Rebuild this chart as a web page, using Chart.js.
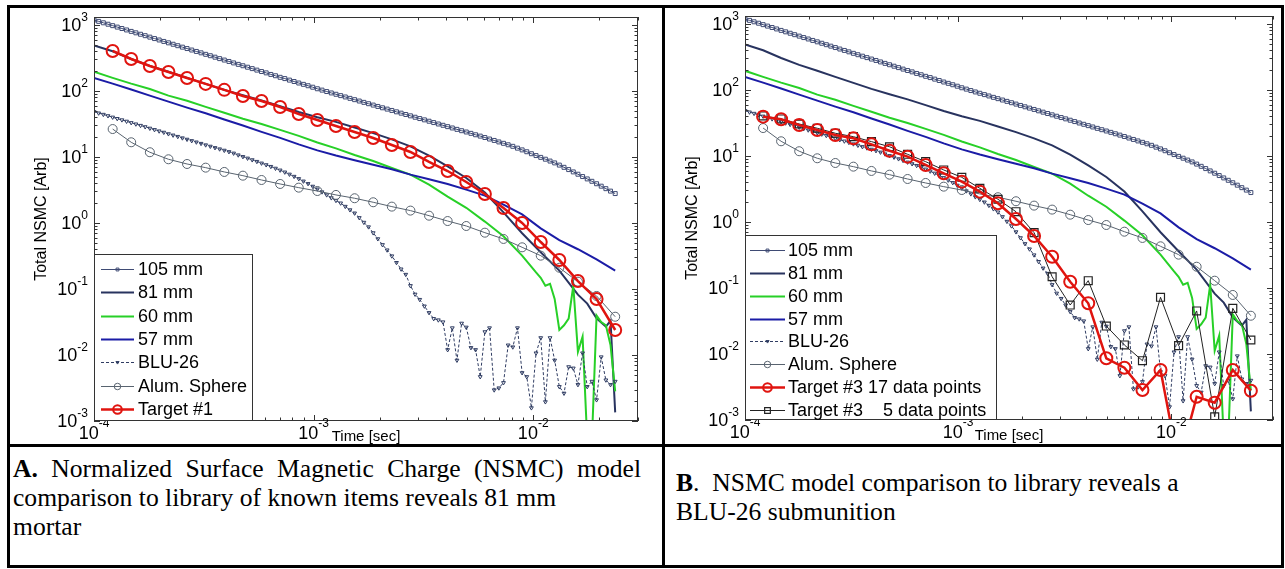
<!DOCTYPE html>
<html>
<head>
<meta charset="utf-8">
<script src="https://cdn.jsdelivr.net/npm/chart.js@4.4.1/dist/chart.umd.min.js"></script>
<style>
  html, body { margin: 0; padding: 0; background: #fff; }
  body { width: 1285px; height: 569px; position: relative; overflow: hidden; }
  canvas { position: absolute; }
  .rule { position: absolute; background: #000; }
  .cap { position: absolute; font-family: "Liberation Serif", "Times New Roman", serif; font-size: 25.6px; line-height: 29px; color: #000; white-space: nowrap; }
  .just { text-align: justify; text-align-last: justify; white-space: normal; }
</style>
</head>
<body>
<canvas id="chartA" width="651" height="436" style="left:10px;top:8px"></canvas>
<canvas id="chartB" width="616" height="436" style="left:665px;top:8px"></canvas>

<div class="rule" style="left:7px;top:5px;width:1277px;height:3px"></div>
<div class="rule" style="left:7px;top:444px;width:1277px;height:3px"></div>
<div class="rule" style="left:7px;top:565px;width:1277px;height:3px"></div>
<div class="rule" style="left:7px;top:5px;width:3px;height:563px"></div>
<div class="rule" style="left:662px;top:5px;width:3px;height:563px"></div>
<div class="rule" style="left:1281px;top:5px;width:3px;height:563px"></div>

<div class="cap just" style="left:13px;top:454px;width:628px"><b>A.</b> Normalized Surface Magnetic Charge (NSMC) model</div>
<div class="cap" style="left:13px;top:483px">comparison to library of known items reveals 81 mm</div>
<div class="cap" style="left:13px;top:512px">mortar</div>
<div class="cap" style="left:676px;top:468px"><b>B</b>.&nbsp; NSMC model comparison to library reveals a<br>BLU-26 submunition</div>

<script>
// time gates [sec], shared by every curve
const tLib = [
  1.000e-4, 1.050e-4, 1.103e-4, 1.158e-4, 1.216e-4, 1.276e-4, 1.340e-4, 1.407e-4, 1.477e-4, 1.551e-4,
  1.629e-4, 1.710e-4, 1.796e-4, 1.886e-4, 1.980e-4, 2.079e-4, 2.183e-4, 2.292e-4, 2.407e-4, 2.527e-4,
  2.653e-4, 2.786e-4, 2.925e-4, 3.072e-4, 3.225e-4, 3.386e-4, 3.556e-4, 3.733e-4, 3.920e-4, 4.116e-4,
  4.322e-4, 4.538e-4, 4.765e-4, 5.003e-4, 5.253e-4, 5.516e-4, 5.792e-4, 6.081e-4, 6.386e-4, 6.705e-4,
  7.040e-4, 7.392e-4, 7.762e-4, 8.150e-4, 8.557e-4, 8.985e-4, 9.434e-4, 9.906e-4, 1.040e-3, 1.092e-3,
  1.147e-3, 1.204e-3, 1.264e-3, 1.328e-3, 1.394e-3, 1.464e-3, 1.537e-3, 1.614e-3, 1.694e-3, 1.779e-3,
  1.868e-3, 1.961e-3, 2.059e-3, 2.162e-3, 2.271e-3, 2.384e-3, 2.503e-3, 2.628e-3, 2.760e-3, 2.898e-3,
  3.043e-3, 3.195e-3, 3.355e-3, 3.522e-3, 3.698e-3, 3.883e-3, 4.077e-3, 4.281e-3, 4.495e-3, 4.720e-3,
  4.956e-3, 5.204e-3, 5.464e-3, 5.737e-3, 6.024e-3, 6.325e-3, 6.642e-3, 6.974e-3, 7.323e-3, 7.689e-3,
  8.073e-3, 8.477e-3, 8.901e-3, 9.346e-3, 9.813e-3, 1.030e-2, 1.082e-2, 1.136e-2, 1.193e-2, 1.252e-2,
  1.315e-2, 1.381e-2, 1.450e-2, 1.522e-2, 1.598e-2, 1.678e-2, 1.762e-2, 1.850e-2, 1.943e-2, 2.040e-2,
  2.142e-2, 2.249e-2, 2.362e-2
];

// 105 mm, one value per gate
const mm105 = [
  1190, 1133, 1078, 1026, 976, 928, 883, 840, 799, 760,
  723, 688, 654, 622, 592, 563, 536, 510, 485, 461,
  439, 417, 397, 378, 359, 342, 325, 309, 294, 280,
  266, 253, 241, 229, 218, 207, 197, 188, 178, 170,
  161, 154, 146, 139, 132, 126, 120, 114, 108, 103,
  98, 93.3, 89.1, 85.0, 81.1, 77.3, 73.8, 70.4, 67.2, 64.1,
  61.1, 58.3, 55.6, 53.1, 50.7, 48.3, 46.1, 44.0, 42.0, 40.0,
  38.2, 36.5, 34.8, 33.2, 31.6, 30.2, 28.8, 27.5, 26.2, 25.0,
  23.9, 22.8, 21.7, 20.7, 19.7, 18.7, 17.8, 16.9, 16.1, 15.3,
  14.5, 13.6, 12.8, 12.0, 11.2, 10.5, 9.86, 9.25, 8.67, 8.13,
  7.53, 6.97, 6.44, 5.94, 5.48, 5.05, 4.65, 4.28, 3.93, 3.61,
  3.31, 3.04, 2.79
];

// BLU-26, one value per gate
const blu26 = [
  48.5, 46.2, 44.1, 42.0, 40.0, 38.1, 36.4, 34.7, 33.0, 31.5,
  30.0, 28.6, 27.2, 25.9, 24.7, 23.6, 22.4, 21.4, 20.4, 19.4,
  18.5, 17.6, 16.8, 16.0, 15.2, 14.5, 13.8, 13.2, 12.6, 12.0,
  11.4, 10.7, 10.1, 9.57, 9.04, 8.53, 8.05, 7.60, 7.16, 6.73,
  6.31, 5.89, 5.47, 5.07, 4.68, 4.30, 3.94, 3.59, 3.26, 2.95,
  2.66, 2.40, 2.19, 2.00, 1.78, 1.58, 1.41, 1.20, 1.02, 0.871,
  0.708, 0.575, 0.468, 0.389, 0.316, 0.251, 0.200, 0.166, 0.112, 0.0832,
  0.0692, 0.0550, 0.0437, 0.0355, 0.0339, 0.0316, 0.0120, 0.0257, 0.00832, 0.0302,
  0.0263, 0.0129, 0.0120, 0.00468, 0.0224, 0.0257, 0.00295, 0.00316, 0.00380, 0.0141,
  0.0132, 0.0257, 0.00537, 0.00468, 0.00158, 0.0107, 0.0182, 0.00195, 0.0182, 0.00832,
  0.00331, 0.00263, 0.00661, 0.00631, 0.00355, 0.0107, 0.00331, 0.00398, 0.00209, 0.00933,
  0.00417, 0.00355, 0.00398
];

// gate indices used by the sparser curves
const kEvery4 = [0, 4, 8, 12, 16, 20, 24, 28, 32, 36, 40, 44, 48, 52, 56, 60, 64, 68, 72, 76, 80, 84, 88, 92, 96, 100, 104, 108, 112];
const kMarks = [4, 8, 12, 16, 20, 24, 28, 32, 36, 40, 44, 48, 52, 56, 60, 64, 68, 72, 76, 80, 84, 88, 92, 96, 100, 104, 108, 112];
const k81 = [0, 4, 8, 12, 16, 20, 24, 28, 32, 36, 40, 44, 48, 52, 56, 60, 64, 68, 72, 76, 80, 84, 88, 92, 96, 100, 104, 106, 108, 109, 110, 111, 112];
const k60 = [0, 4, 8, 12, 16, 20, 24, 28, 32, 36, 40, 44, 48, 52, 56, 60, 64, 68, 72, 76, 80, 84, 88, 92,
  95, 96, 97, 98, 99, 100, 101, 102, 103, 104, 105, 106, 107, 108, 109, 110, 111, 112];

const mm81 = [490, 400, 305, 240, 195, 158, 128, 104, 86, 72, 59, 48, 40, 34, 28, 23, 18.5, 14.5, 10.5, 7.2,
  4.8, 2.9, 1.45, 0.70, 0.36, 0.19, 0.082, 0.06, 0.036, 0.031, 0.027, 0.033, 0.00135];
const mm60 = [195, 158, 129, 107, 85, 71, 57.5, 46.8, 38, 31.6, 25.7, 20.9, 16.6, 13.5, 10.7, 8.7, 6.8, 5.4, 3.8, 2.5,
  1.7, 1.05, 0.63, 0.32, 0.178, 0.148, 0.112, 0.120, 0.0708, 0.024, 0.0282, 0.0355, 0.112, 0.0112,
  0.019, 0.0005, 0.0005, 0.0398, 0.0316, 0.0282, 0.0141, 0.00282];
const mm57 = [158, 129, 105, 85, 69, 56, 46, 37, 30, 24, 19.5, 15.5, 12.6, 10.5, 8.9, 7.6, 6.5, 5.4, 4.6, 3.9,
  3.2, 2.6, 1.9, 1.35, 0.83, 0.55, 0.40, 0.28, 0.19];
const alum = [26.5, 16.7, 11.8, 9.23, 7.83, 6.89, 5.93, 5.21, 4.48, 3.90, 3.43, 3.05, 2.66, 2.37, 2.06, 1.77, 1.54, 1.29,
  1.07, 0.90, 0.713, 0.573, 0.428, 0.320, 0.210, 0.129, 0.0784, 0.0380];
const target1 = [404, 305, 239, 194, 157, 128, 104, 84, 70.5, 57.2, 44.8, 36.4, 29.5, 23.9, 19.4, 15.2, 11.9, 8.40,
  6.13, 4.18, 2.75, 1.69, 1.00, 0.515, 0.275, 0.132, 0.0705, 0.0239];
const target3a = [39.4, 36.0, 29.5, 24.8, 20.8, 18.5, 15.0, 12.0, 9.76, 7.31, 5.47, 4.08, 2.88, 1.92, 1.11, 0.614, 0.298,
  0.124, 0.0586, 0.00861, 0.00619, 0.00285, 0.00573, 0.00021, 0.00225, 0.00183, 0.00573, 0.00278];
const target3b = [40.4, 36.4, 30.5, 26.3, 22.1, 19.6, 16.5, 13.8, 10.6, 8.20, 6.14, 4.75, 3.24, 2.21, 1.43, 0.689, 0.148,
  0.0552, 0.129, 0.0265, 0.0137, 0.00791, 0.0723, 0.0134, 0.0449, 0.00112, 0.0492, 0.0163];

// axis decades (tick labels are 10^n)
const xExp = [-4, -3, -2];
const yExp = [-3, -2, -1, 0, 1, 2, 3];

const SANS = '"Liberation Sans", Arial, sans-serif';

function pts(ks, vals) {
  return ks.map((k, i) => ({ x: tLib[k], y: vals[i] }));
}
function allPts(vals) {
  return tLib.map((t, i) => ({ x: t, y: vals[i] }));
}

function librarySets() {
  return [
    { label: '105 mm', data: allPts(mm105), borderColor: '#3f4b74', borderWidth: 1,
      pointStyle: 'rect', pointRadius: 2.8, pointBorderWidth: 1, pointBorderColor: '#3f4b74',
      pointBackgroundColor: 'rgba(0,0,0,0)', order: 9 },
    { label: '81 mm', data: pts(k81, mm81), borderColor: '#28335f', borderWidth: 2, pointRadius: 0, order: 8 },
    { label: '60 mm', data: pts(k60, mm60), borderColor: '#27d027', borderWidth: 2, pointRadius: 0, order: 7 },
    { label: '57 mm', data: pts(kEvery4, mm57), borderColor: '#1b1ca6', borderWidth: 2, pointRadius: 0, order: 6 },
    { label: 'BLU-26', data: allPts(blu26), borderColor: '#2f3c62', borderWidth: 1, borderDash: [3, 2],
      pointStyle: 'triangle', pointRotation: 180, pointRadius: 2.2, pointBorderWidth: 1,
      pointBorderColor: '#2f3c62', pointBackgroundColor: 'rgba(0,0,0,0)', order: 5 },
    { label: 'Alum. Sphere', data: pts(kMarks, alum), borderColor: '#58636f', borderWidth: 1,
      pointStyle: 'circle', pointRadius: 4.5, pointBorderWidth: 1, pointBorderColor: '#58636f',
      pointBackgroundColor: 'rgba(0,0,0,0)', order: 4 }
  ];
}

function drawMark(ctx, d, x, y, r) {
  ctx.strokeStyle = d.pointBorderColor || d.borderColor;
  ctx.lineWidth = d.pointBorderWidth || 1;
  ctx.beginPath();
  if (d.pointStyle === 'circle') {
    ctx.arc(x, y, r, 0, Math.PI * 2);
  } else if (d.pointStyle === 'rect') {
    const s = r * Math.SQRT1_2;
    ctx.rect(x - s, y - s, 2 * s, 2 * s);
  } else if (d.pointStyle === 'triangle') {
    ctx.moveTo(x - r, y - r * 0.6);
    ctx.lineTo(x + r, y - r * 0.6);
    ctx.lineTo(x, y + r);
    ctx.closePath();
  }
  ctx.stroke();
}

function powLabel(ctx, e, x, y, where) {
  const base = '10', ex = String(e);
  ctx.font = '18px ' + SANS;
  const wb = ctx.measureText(base).width;
  ctx.font = '12px ' + SANS;
  const we = ctx.measureText(ex).width;
  let left, midY, expY;
  if (where === 'y') {
    left = x - we - wb;
    midY = y + 1;
    expY = y - 4;
  } else {
    left = x - (wb + we) / 2;
    midY = y + 13;
    expY = y + 6;
  }
  ctx.fillStyle = '#000';
  ctx.textAlign = 'left';
  ctx.font = '18px ' + SANS;
  ctx.textBaseline = 'middle';
  ctx.fillText(base, left, midY);
  ctx.font = '12px ' + SANS;
  ctx.textBaseline = 'alphabetic';
  ctx.fillText(ex, left + wb, expY);
}

// frame, inward ticks, tick labels and axis titles (matlab look)
const matlabAxes = {
  id: 'matlabAxes',
  afterDatasetsDraw(chart) {
    const { ctx, chartArea: a } = chart;
    const xs = chart.scales.x, ys = chart.scales.y;
    ctx.save();
    ctx.strokeStyle = '#333';
    ctx.lineWidth = 1;
    ctx.beginPath();
    for (let e = -4; e <= -1; e++) {
      for (let m = 1; m <= 9; m++) {
        const v = m * Math.pow(10, e);
        if (v < xs.min || v > xs.max) continue;
        const px = Math.round(xs.getPixelForValue(v)) + 0.5;
        const len = m === 1 ? 6 : 3.5;
        ctx.moveTo(px, a.bottom); ctx.lineTo(px, a.bottom - len);
        ctx.moveTo(px, a.top); ctx.lineTo(px, a.top + len);
      }
    }
    for (let e = -3; e <= 3; e++) {
      for (let m = 1; m <= 9; m++) {
        const v = m * Math.pow(10, e);
        if (v < ys.min || v > ys.max) continue;
        const py = Math.round(ys.getPixelForValue(v)) + 0.5;
        const len = m === 1 ? 6 : 3.5;
        ctx.moveTo(a.left, py); ctx.lineTo(a.left + len, py);
        ctx.moveTo(a.right, py); ctx.lineTo(a.right - len, py);
      }
    }
    ctx.stroke();
    ctx.strokeRect(a.left + 0.5, a.top + 0.5, a.right - a.left - 1, a.bottom - a.top - 1);

    yExp.forEach(e => powLabel(ctx, e, a.left - 6, ys.getPixelForValue(Math.pow(10, e)), 'y'));
    xExp.forEach(e => powLabel(ctx, e, xs.getPixelForValue(Math.pow(10, e)), a.bottom, 'x'));

    ctx.fillStyle = '#000';
    ctx.textAlign = 'center';
    ctx.textBaseline = 'middle';
    ctx.font = '15px ' + SANS;
    ctx.fillText('Time [sec]', (a.left + a.right) / 2, a.bottom + 16);
    ctx.translate(a.left - 52, (a.top + a.bottom) / 2);
    ctx.rotate(-Math.PI / 2);
    ctx.font = '16px ' + SANS;
    ctx.fillText('Total NSMC [Arb]', 0, 0);
    ctx.restore();
  }
};

// boxed legend in the lower left corner of the axes
const boxLegend = {
  id: 'boxLegend',
  afterDraw(chart, args, opts) {
    const { ctx, chartArea: a } = chart;
    const x0 = a.left, y0 = a.bottom - opts.h;
    ctx.save();
    ctx.fillStyle = '#fff';
    ctx.fillRect(x0, y0, opts.w, opts.h);
    ctx.strokeStyle = '#333';
    ctx.lineWidth = 1;
    ctx.strokeRect(x0 + 0.5, y0 + 0.5, opts.w - 1, opts.h - 1);
    chart.data.datasets.forEach((d, i) => {
      const ry = Math.round(y0 + opts.first + i * opts.step) + 0.5;
      const s0 = x0 + opts.s0, s1 = x0 + opts.s1;
      ctx.strokeStyle = d.borderColor;
      ctx.lineWidth = d.borderWidth;
      ctx.setLineDash(d.borderDash || []);
      ctx.beginPath(); ctx.moveTo(s0, ry); ctx.lineTo(s1, ry); ctx.stroke();
      ctx.setLineDash([]);
      if (d.pointRadius) drawMark(ctx, d, (s0 + s1) / 2, ry, d.pointRadius * 0.72);
      ctx.fillStyle = '#000';
      ctx.font = '18px ' + SANS;
      ctx.textAlign = 'left';
      ctx.textBaseline = 'middle';
      ctx.fillText(d.label, x0 + opts.tx, ry + 1);
    });
    ctx.restore();
  }
};

function makeChart(id, sets, pad, legend) {
  return new Chart(document.getElementById(id), {
    type: 'scatter',
    data: { datasets: sets.map(s => Object.assign({ showLine: true, tension: 0 }, s)) },
    options: {
      responsive: false,
      animation: false,
      events: [],
      layout: { padding: pad },
      scales: {
        x: { type: 'logarithmic', min: 1e-4, max: 0.03, display: false },
        y: { type: 'logarithmic', min: 1e-3, max: 1320, display: false }
      },
      plugins: { legend: { display: false }, tooltip: { enabled: false }, boxLegend: legend }
    },
    plugins: [matlabAxes, boxLegend]
  });
}

const setsA = librarySets().concat([
  { label: 'Target #1', data: pts(kMarks, target1), borderColor: '#e0140f', borderWidth: 2.5,
    pointStyle: 'circle', pointRadius: 6, pointBorderWidth: 2, pointBorderColor: '#e0140f',
    pointBackgroundColor: 'rgba(0,0,0,0)', order: 1 }
]);

const setsB = librarySets().concat([
  { label: 'Target #3 17 data points', data: pts(kMarks, target3a), borderColor: '#e0140f', borderWidth: 2.5,
    pointStyle: 'circle', pointRadius: 6, pointBorderWidth: 2, pointBorderColor: '#e0140f',
    pointBackgroundColor: 'rgba(0,0,0,0)', order: 1 },
  { label: 'Target #3    5 data points', data: pts(kMarks, target3b), borderColor: '#222', borderWidth: 1,
    pointStyle: 'rect', pointRadius: 5.6, pointBorderWidth: 1.2, pointBorderColor: '#222',
    pointBackgroundColor: 'rgba(0,0,0,0)', order: 2 }
]);

makeChart('chartA', setsA, { left: 84, top: 9, right: 23, bottom: 23 },
  { w: 159, h: 167, first: 15, step: 23.3, s0: 7, s1: 40, tx: 44 });
makeChart('chartB', setsB, { left: 80, top: 8, right: 1, bottom: 24 },
  { w: 252, h: 185, first: 15, step: 22.85, s0: 5, s1: 40, tx: 43 });
</script>
</body>
</html>
